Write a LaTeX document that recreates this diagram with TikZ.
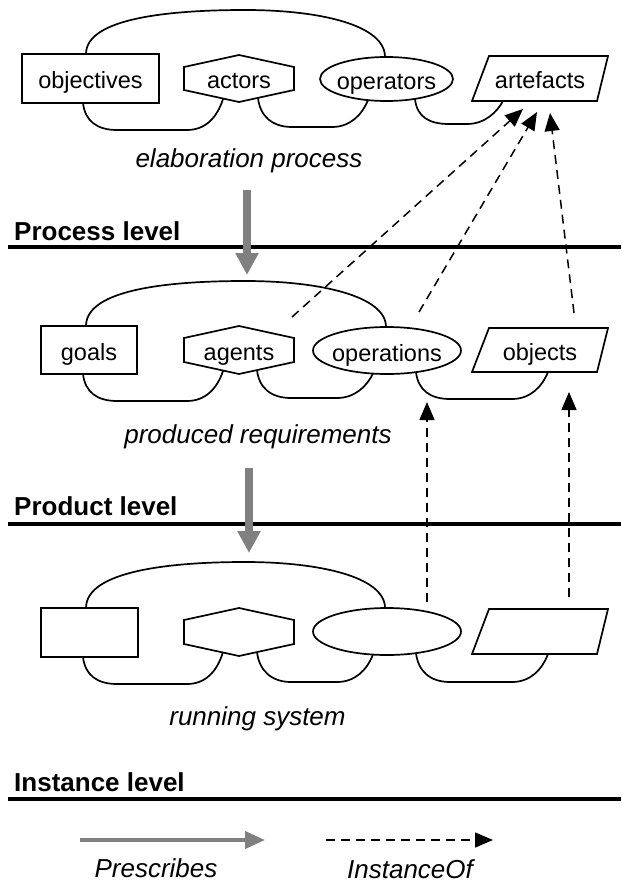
\documentclass[tikz,border=0pt]{standalone}
\usepackage{fontspec}
\setmainfont{Liberation Sans}
\usetikzlibrary{arrows.meta,calc,shapes.geometric}
\definecolor{prescribegray}{RGB}{128,128,128}
\newcommand{\hexoutline}[1]{\draw[shapeline] (#1.north) -- ($(#1.north east)+(0,12)$) -- ($(#1.south east)+(0,-12)$) -- (#1.south) -- ($(#1.south west)+(0,-12)$) -- ($(#1.north west)+(0,12)$) -- cycle;}
\newcommand{\paraoutline}[1]{\draw[shapeline] ($(#1.north west)+(17,0)$) -- (#1.north east) -- ($(#1.south east)+(-11,0)$) -- (#1.south west) -- cycle;}
\newcommand{\ovaloutline}[3]{\draw[shapeline] (#1.center) ellipse [x radius=#2pt, y radius=#3pt];}
\newcommand{\linkloop}[5]{\draw[shapeline] (#1,#2) .. controls ({#1+2},{#2+18}) and ({#1+14},#5) .. ({#1+34},#5) -- ({#3-36},#5) .. controls ({#3-18},#5) and ({#3-6},{#5-12}) .. (#3,#4);}
\begin{document}
\begin{tikzpicture}[x=1pt,y=-1pt,
  shapeline/.style={draw=black,line width=1.7pt},
  nodetext/.style={font=\fontsize{23.5}{28}\selectfont,text height=21pt,text depth=0pt,inner sep=0pt,outer sep=0pt},
  caption/.style={font=\fontsize{26}{30}\selectfont\itshape,anchor=base,inner sep=0pt},
  levellabel/.style={font=\fontsize{26}{30}\selectfont\bfseries,anchor=base west,inner sep=0pt},
  levelline/.style={line width=3.5pt},
  prescribe/.style={draw=prescribegray,line width=8pt,-{Triangle[length=22pt,width=22pt]}},
  legendprescribe/.style={draw=prescribegray,line width=4pt,-{Triangle[length=20pt,width=17pt]}},
  instof/.style={line width=1.5pt,dash pattern=on 9pt off 6pt,-{Triangle[length=18pt,width=15pt]}}]
\useasboundingbox (0,0) rectangle (621,888);

% ---------- elaboration process ----------
\node[nodetext,shapeline,minimum width=137pt,minimum height=49pt] (obj) at (90.5,78.5) {objectives};
\node[nodetext,minimum width=110pt,minimum height=47pt] (act) at (239,78.5) {actors};
\hexoutline{act}
\node[nodetext,minimum width=133pt,minimum height=44pt] (opr) at (386.5,79) {operators};
\ovaloutline{opr}{66.5}{22}
\node[nodetext,minimum width=136pt,minimum height=45pt] (art) at (540,78.5) {artefacts};
\paraoutline{art}
\draw[shapeline] (86,54) .. controls (86,18) and (170,10) .. (245,10) .. controls (320,10) and (385,25) .. (385,57);
\linkloop{83}{103}{223}{99}{130}
\linkloop{258}{98}{368}{100}{127}
\linkloop{415}{99}{503}{101}{124}
\node[caption] (cap1) at (249,167) {elaboration process};

% ---------- produced requirements ----------
\node[nodetext,shapeline,minimum width=96pt,minimum height=48pt] (goals) at (89,350) {goals};
\node[nodetext,minimum width=110pt,minimum height=48pt] (agents) at (239,350) {agents};
\hexoutline{agents}
\node[nodetext,minimum width=148pt,minimum height=47pt] (opns) at (387,350.5) {operations};
\ovaloutline{opns}{74}{23.5}
\node[nodetext,minimum width=136pt,minimum height=44pt] (objs) at (540,350) {objects};
\paraoutline{objs}
\draw[shapeline] (86,326) .. controls (86,289) and (170,281) .. (245,281) .. controls (320,281) and (386,296) .. (386,327);
\linkloop{83}{374}{223}{371}{401}
\linkloop{257}{370}{373}{373.5}{398}
\linkloop{416}{372}{548}{372}{399}
\node[caption] (cap2) at (258,443) {produced requirements};

% ---------- running system ----------
\node[nodetext,shapeline,minimum width=97pt,minimum height=49pt] (rs1) at (89.5,632.5) {};
\node[nodetext,minimum width=110pt,minimum height=48pt] (rs2) at (239,632) {};
\hexoutline{rs2}
\node[nodetext,minimum width=148pt,minimum height=47pt] (rs3) at (387,631.5) {};
\ovaloutline{rs3}{74}{23.5}
\node[nodetext,minimum width=136pt,minimum height=45pt] (rs4) at (540,631.5) {};
\paraoutline{rs4}
\draw[shapeline] (86,608) .. controls (86,571) and (170,562) .. (245,562) .. controls (320,562) and (385,577) .. (385,608);
\linkloop{83}{657}{223}{652}{684}
\linkloop{257}{652}{373}{654.5}{682}
\linkloop{416}{653}{548}{654}{682}
\node[caption] (cap3) at (257.5,725) {running system};

% ---------- levels ----------
\node[levellabel] (lvp) at (14,240) {Process level};
\coordinate (lp1) at (8,247); \coordinate (lp2) at (621,247);
\draw[levelline] (lp1) -- (lp2);
\node[levellabel] (lvq) at (14,515) {Product level};
\coordinate (lq1) at (8,524); \coordinate (lq2) at (621,524);
\draw[levelline] (lq1) -- (lq2);
\node[levellabel] (lvi) at (14,791) {Instance level};
\coordinate (li1) at (8,799); \coordinate (li2) at (621,799);
\draw[levelline] (li1) -- (li2);

% ---------- prescribes arrows ----------
\coordinate (g1s) at (247,190); \coordinate (g1e) at (247,275);
\coordinate (g2s) at (249,468); \coordinate (g2e) at (249,553);
\draw[prescribe] (g1s) -- (g1e);
\draw[prescribe] (g2s) -- (g2e);

% ---------- instanceof arrows ----------
\coordinate (d1s) at (292,317); \coordinate (d1e) at (523,109);
\coordinate (d2s) at (419,312); \coordinate (d2e) at (537,112);
\coordinate (d3s) at (574,313); \coordinate (d3e) at (550,113);
\coordinate (d4s) at (427,602); \coordinate (d4e) at (427,402);
\coordinate (d5s) at (569,597); \coordinate (d5e) at (569,392);
\draw[instof] (d1s) -- (d1e);
\draw[instof] (d2s) -- (d2e);
\draw[instof] (d3s) -- (d3e);
\draw[instof] (d4s) -- (d4e);
\draw[instof] (d5s) -- (d5e);

% ---------- legend ----------
\coordinate (lg1s) at (80,840); \coordinate (lg1e) at (265,840);
\coordinate (lg2s) at (326,840); \coordinate (lg2e) at (493,840);
\draw[legendprescribe] (lg1s) -- (lg1e);
\draw[instof] (lg2s) -- (lg2e);
\node[caption] (lgt1) at (156,877) {Prescribes};
\node[caption] (lgt2) at (410,878) {InstanceOf};
\end{tikzpicture}
\end{document}
